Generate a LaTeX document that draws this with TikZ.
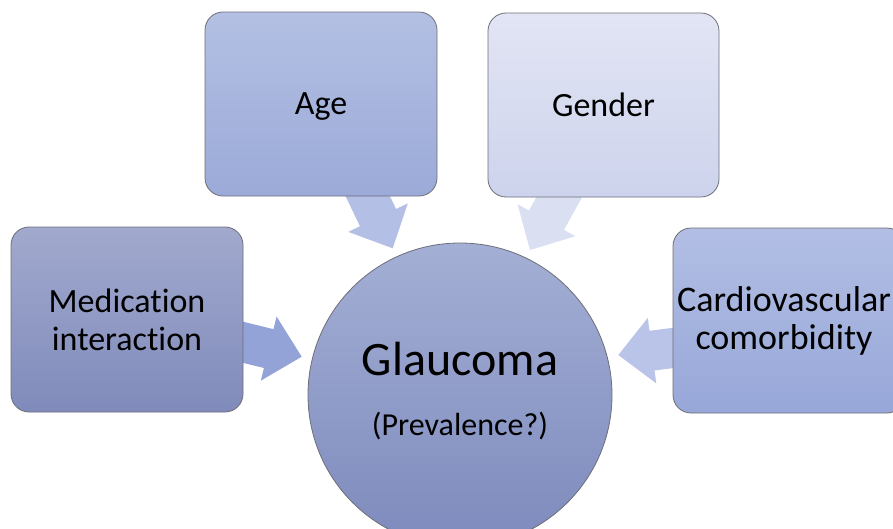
\documentclass[tikz,border=0pt]{standalone}
\usepackage{fontspec}
\setmainfont{Carlito}[Ligatures=NoCommon]
\usetikzlibrary{calc}
\definecolor{ageTop}{HTML}{B3C0E3}
\definecolor{ageBot}{HTML}{9BAAD8}
\definecolor{genTop}{HTML}{E2E5F4}
\definecolor{genBot}{HTML}{CDD3EC}
\definecolor{medTop}{HTML}{A1A9CD}
\definecolor{medBot}{HTML}{808BBB}
\definecolor{carTop}{HTML}{B2BEE4}
\definecolor{carBot}{HTML}{97A7D8}
\definecolor{cirTop}{HTML}{A4AFD5}
\definecolor{cirBot}{HTML}{7D8ABC}
\definecolor{arrAge}{HTML}{B3BFE4}
\definecolor{arrGen}{HTML}{DADFF2}
\definecolor{arrMed}{HTML}{94A3D7}
\definecolor{arrCar}{HTML}{B9C4E8}
\definecolor{edge}{HTML}{6E6E78}
\newcommand{\blockarr}[3]{%
  \coordinate (H-#2) at ($(#2)!34pt!(#1)$);
  \fill[#3] ($(#1)!20pt!90:(#2)$) -- ($(H-#2)!20pt!-90:(#1)$)
    -- ($(H-#2)!33pt!-90:(#1)$) -- (#2) -- ($(H-#2)!33pt!90:(#1)$)
    -- ($(H-#2)!20pt!90:(#1)$) -- ($(#1)!20pt!-90:(#2)$) -- cycle;}
\tikzset{
  factorbox/.style={draw=edge, line width=0.8pt, rounded corners=18pt,
    minimum width=232pt, minimum height=184pt, inner sep=0pt,
    align=center, font=\fontsize{34}{38}\selectfont, text=black},
  boxtext/.style={align=center, font=\fontsize{36}{38}\selectfont, text=black, inner sep=0pt},
  hub/.style={circle, draw=edge, line width=0.8pt, minimum size=304pt, inner sep=0pt,
    top color=cirTop, bottom color=cirBot}
}
\begin{document}
\begin{tikzpicture}[x=1pt,y=-1pt]
\useasboundingbox (0,0) rectangle (893,528);
\clip (0,0) rectangle (893,528);
% arrow coordinates
\coordinate (ageS) at (352.4,164.1);
\coordinate (ageT) at (392.7,248.3);
\coordinate (genS) at (575.3,168);
\coordinate (genT) at (530,250);
\coordinate (medS) at (211,334.4);
\coordinate (medT) at (301.7,356.7);
\coordinate (carS) at (712.5,342.8);
\coordinate (carT) at (618.3,355);
\blockarr{ageS}{ageT}{arrAge}
\blockarr{genS}{genT}{arrGen}
\blockarr{medS}{medT}{arrMed}
\blockarr{carS}{carT}{arrCar}
% boxes
\node[factorbox, top color=ageTop, bottom color=ageBot, text depth=0pt] (age) at (321,104) {Age};
\node[factorbox, top color=genTop, bottom color=genBot, minimum width=231pt] (gender) at (603.5,105) {Gender};
\node[factorbox, top color=medTop, bottom color=medBot, minimum height=185pt] (med) at (127,319.5) {Medication\\interaction};
\node[factorbox, top color=carTop, bottom color=carBot, minimum height=185pt] (cardio) at (789,320.5) {};
\node[boxtext] (cardiotext) at (784,321) {Cardiovascular\\comorbidity};
% hub
\node[hub] (glaucoma) at (460,395) {};
\node[anchor=base, inner sep=0pt, font=\fontsize{48}{50}\selectfont] (gtext) at (460,375) {Glaucoma};
\node[anchor=base, inner sep=0pt, font=\fontsize{32}{36}\selectfont] (ptext) at (460,435) {(Prevalence?)};
\end{tikzpicture}
\end{document}
